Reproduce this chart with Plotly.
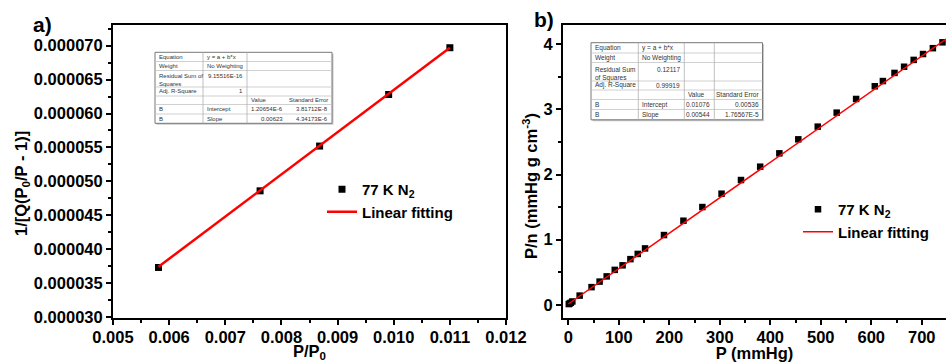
import plotly.graph_objects as go

W, H = 946, 362

# ---------------- data ----------------
# panel a : BET-type plot
a_x = [0.00581, 0.00762, 0.00868, 0.00991, 0.01100]
a_y = [3.73e-5, 4.86e-5, 5.52e-5, 6.28e-5, 6.97e-5]
a_fit_x = [0.00581, 0.01100]
a_fit_y = [3.74e-5, 6.97e-5]

# panel b : Langmuir-type plot
b_x = [1, 3, 5, 8, 22.5, 46, 62, 76, 92, 107.5, 123, 137.5, 152, 189.5, 228,
       265.5, 303.5, 342, 380, 418, 455.5, 494, 531.5, 570, 607, 623, 646,
       665, 684, 702.5, 722, 741]
b_y = [0.01, 0.02, 0.03, 0.05, 0.14, 0.27, 0.355, 0.435, 0.535, 0.605, 0.70,
       0.78, 0.865, 1.07, 1.29, 1.50, 1.705, 1.915, 2.12, 2.325, 2.54, 2.735,
       2.95, 3.16, 3.355, 3.435, 3.56, 3.655, 3.76, 3.85, 3.94, 4.03]
b_fit_x = [0, 760]
b_fit_y = [0.011, 4.145]

series_name = "77 K N<sub>2</sub>"
fit_name = "Linear fitting"

table_a = [
    ["Equation", "y = a + b*x", "", ""],
    ["Weight", "No Weighting", "", ""],
    ["Residual Sum of<br>Squares", "9.15516E-16", "", ""],
    ["Adj. R-Square", "1", "", ""],
    ["", "", "Value", "Standard Error"],
    ["B", "Intercept", "1.20654E-6", "3.81712E-8"],
    ["B", "Slope", "0.00623", "4.34173E-6"],
]
table_b = [
    ["Equation", "y = a + b*x", "", ""],
    ["Weight", "No Weighting", "", ""],
    ["Residual Sum<br>of Squares", "0.12117", "", ""],
    ["Adj. R-Square", "0.99919", "", ""],
    ["", "", "Value", "Standard Error"],
    ["B", "Intercept", "0.01076", "0.00536"],
    ["B", "Slope", "0.00544", "1.76567E-5"],
]

FONT = "Arial, Liberation Sans, sans-serif"
BOLD16 = dict(family=FONT, size=16.5, color="black", weight="bold")


def px(x):
    return x / W


def py(y):
    return 1 - y / H


fig = go.Figure()

fig.add_trace(go.Scatter(x=a_x, y=a_y, mode="markers", name=series_name,
                         marker=dict(symbol="square", size=7, color="black"),
                         xaxis="x", yaxis="y", legend="legend"))
fig.add_trace(go.Scatter(x=a_fit_x, y=a_fit_y, mode="lines", name=fit_name,
                         line=dict(color="#ff0000", width=2.5),
                         xaxis="x", yaxis="y", legend="legend"))
fig.add_trace(go.Scatter(x=b_x, y=b_y, mode="markers", name=series_name,
                         marker=dict(symbol="square", size=6.5, color="black"),
                         xaxis="x2", yaxis="y2", legend="legend2"))
fig.add_trace(go.Scatter(x=b_fit_x, y=b_fit_y, mode="lines", name=fit_name,
                         line=dict(color="#ff0000", width=1.5),
                         xaxis="x2", yaxis="y2", legend="legend2"))

common_axis = dict(showline=True, linewidth=2, linecolor="black", mirror=True,
                   ticks="outside", ticklen=5, tickwidth=1.5, tickcolor="black",
                   showgrid=False, zeroline=False, tickfont=BOLD16,
                   automargin=False)

ydom = [py(318), py(25)]

fig.update_layout(
    width=W, height=H, margin=dict(l=0, r=0, t=0, b=0, autoexpand=False),
    paper_bgcolor="white", plot_bgcolor="white",
    xaxis=dict(domain=[px(113), px(506)], range=[0.005, 0.012], tick0=0.005,
               dtick=0.001, tickformat=".3f", anchor="y", ticklabelstandoff=-2,
               minor=dict(dtick=0.0005, ticklen=3, ticks="outside", tickcolor="black"),
               title=dict(text="P/P<sub>0</sub>", font=BOLD16, standoff=3),
               **common_axis),
    yaxis=dict(domain=ydom, range=[2.985e-5, 7.305e-5], tick0=3e-5, dtick=5e-6,
               tickformat=".6f", anchor="x",
               minor=dict(dtick=2.5e-6, ticklen=3, ticks="outside", tickcolor="black"),
               **common_axis),
    xaxis2=dict(domain=[px(563), 1.0], range=[-10.5, 748], tick0=0, dtick=100,
                anchor="y2", ticklabelstandoff=-2,
                minor=dict(dtick=50, ticklen=3, ticks="outside", tickcolor="black"),
                title=dict(text="P (mmHg)", font=BOLD16, standoff=3),
                **common_axis),
    yaxis2=dict(domain=ydom, range=[-0.204, 4.296], tick0=0, dtick=1, anchor="x2",
                minor=dict(dtick=0.5, ticklen=3, ticks="outside", tickcolor="black"),
                **{**common_axis, "mirror": False}),
    legend=dict(x=px(322), y=py(173), xanchor="left", yanchor="top",
                bgcolor="rgba(0,0,0,0)",
                font=dict(family=FONT, size=15, color="black", weight="bold")),
    legend2=dict(x=px(798), y=py(193), xanchor="left", yanchor="top",
                 bgcolor="rgba(0,0,0,0)",
                 font=dict(family=FONT, size=15, color="black", weight="bold")),
)

annotations = []
shapes = []

# y-axis titles and panel labels
annotations.append(dict(text="1/[Q(P<sub>0</sub>/P - 1)]", xref="paper", yref="paper",
                        x=px(22), y=py(184), textangle=-90, showarrow=False,
                        xanchor="center", yanchor="middle", font=BOLD16))
annotations.append(dict(text="P/n (mmHg g cm<sup>-3</sup>)", xref="paper", yref="paper",
                        x=px(530), y=py(186), textangle=-90, showarrow=False,
                        xanchor="center", yanchor="middle", font=BOLD16))
annotations.append(dict(text="a)", xref="paper", yref="paper", x=px(42), y=py(24),
                        showarrow=False, xanchor="center", yanchor="middle",
                        font=dict(family=FONT, size=21, color="black", weight="bold")))
annotations.append(dict(text="b)", xref="paper", yref="paper", x=px(544), y=py(20),
                        showarrow=False, xanchor="center", yanchor="middle",
                        font=dict(family=FONT, size=21, color="black", weight="bold")))


def draw_table(rows, xe, ye, fsize, vcols=(1, 2, 3)):
    x0, x1 = xe[0], xe[-1]
    y0, y1 = ye[0], ye[-1]
    shapes.append(dict(type="rect", xref="paper", yref="paper",
                       x0=px(x0 + 1.5), x1=px(x1 + 1.5), y0=py(y0 + 1.5), y1=py(y1 + 1.5),
                       line=dict(width=0), fillcolor="#c8c8c8", layer="above"))
    shapes.append(dict(type="rect", xref="paper", yref="paper",
                       x0=px(x0), x1=px(x1), y0=py(y0), y1=py(y1),
                       line=dict(width=1, color="#777777"), fillcolor="white",
                       layer="above"))
    for yy in ye[1:-1]:
        shapes.append(dict(type="line", xref="paper", yref="paper",
                           x0=px(x0), x1=px(x1), y0=py(yy), y1=py(yy),
                           line=dict(width=0.8, color="#c4c4c4"), layer="above"))
    for c in vcols:
        shapes.append(dict(type="line", xref="paper", yref="paper",
                           x0=px(xe[c]), x1=px(xe[c]), y0=py(y0), y1=py(y1),
                           line=dict(width=0.8, color="#b0b0b0"), layer="above"))
    f = dict(family=FONT, size=fsize, color="#333333")
    for r, row in enumerate(rows):
        yc = (ye[r] + ye[r + 1]) / 2
        for c, txt in enumerate(row):
            if not txt:
                continue
            numeric = txt[0].isdigit()
            if "<br>" in txt or (numeric and c == 1 and "<br>" in row[0]):
                ya = ye[r] + 1
                yanc = "top"
            else:
                ya = yc
                yanc = "middle"
            if c == 3 or (numeric and c in (1, 2)):
                xa, xanc = xe[c + 1] - 2, "right"
            else:
                xa, xanc = xe[c] + 2, "left"
            annotations.append(dict(text=txt, xref="paper", yref="paper",
                                    x=px(xa), y=py(ya), xanchor=xanc, yanchor=yanc,
                                    showarrow=False, font=f, align="left"))


draw_table(table_a, [155, 203, 247, 287, 332],
           [52.3, 61.5, 70.5, 87, 96, 104.5, 114, 123.3], 6, vcols=(1, 2))
draw_table(table_b, [591, 638.3, 684.3, 714.3, 762.5],
           [42.7, 53, 62.5, 81, 90, 99.5, 109.5, 119.8], 6.5, vcols=(1, 2, 3))

fig.update_layout(annotations=annotations, shapes=shapes)

fig.write_html("out.html")
